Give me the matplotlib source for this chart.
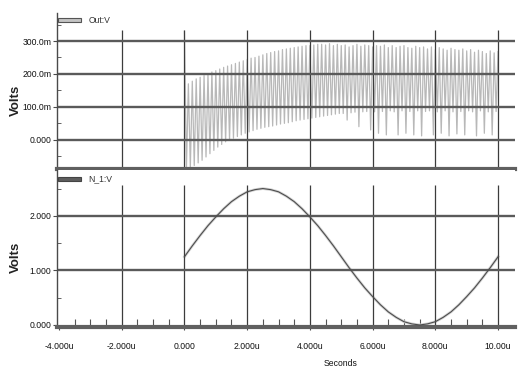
import numpy as np
import matplotlib.pyplot as plt
from matplotlib.patches import Rectangle

# Out:V - per-cycle peak and trough values (mV), one cycle every 0.125 us
out_peak_mv = [330, 170, 178, 185, 190, 195, 200, 206, 210, 215,
               220, 224, 228, 232, 236, 240, 244, 248, 250, 254,
               258, 262, 265, 268, 270, 274, 276, 278, 280, 282,
               284, 286, 286, 288, 290, 290, 288, 292, 286, 290,
               286, 288, 282, 286, 290, 284, 288, 286, 282, 286,
               284, 288, 280, 286, 280, 284, 286, 280, 278, 284,
               280, 282, 276, 282, 274, 280, 276, 272, 278, 274,
               272, 276, 270, 274, 266, 272, 268, 262, 270, 264,
               268]
out_trough_mv = [-90, -85, -78, -70, -62, -52, -42, -32, -22, -14,
                 -6, 0, 5, 10, 15, 20, 24, 28, 32, 35,
                 38, 40, 42, 45, 48, 50, 52, 55, 58, 60,
                 62, 64, 66, 68, 70, 72, 74, 76, 78, 80,
                 80, 60, 82, 84, 40, 85, 86, 30, 85, 20,
                 86, 15, 88, 85, 15, 88, 20, 86, 15, 88,
                 12, 86, 88, 15, 85, 20, 88, 12, 85, 18,
                 86, 15, 88, 85, 12, 88, 20, 85, 15, 86]
cycle_us = 0.125

# N_1:V sampled every 0.25 us from 0 to 10 us
n1_step_us = 0.25
n1_volts = [1.25, 1.45, 1.64, 1.82, 1.98, 2.13, 2.26, 2.36, 2.44, 2.48,
            2.50, 2.48, 2.44, 2.36, 2.26, 2.13, 1.98, 1.82, 1.64, 1.45,
            1.25, 1.05, 0.86, 0.68, 0.52, 0.37, 0.24, 0.14, 0.06, 0.02,
            0.00, 0.02, 0.06, 0.14, 0.24, 0.37, 0.52, 0.68, 0.86, 1.05,
            1.25]

x_ticks = [-4, -2, 0, 2, 4, 6, 8, 10]
x_labels = ['-4.000u', '-2.000u', '0.000', '2.000u', '4.000u', '6.000u', '8.000u', '10.00u']
top_yticks = [0.0, 0.1, 0.2, 0.3]
top_ylabels = ['0.000', '100.0m', '200.0m', '300.0m']
bot_yticks = [0.0, 1.0, 2.0]
bot_ylabels = ['0.000', '1.000', '2.000']

# build the zig-zag trace
pk_t = np.arange(len(out_peak_mv)) * cycle_us
tr_t = np.arange(len(out_trough_mv)) * cycle_us + cycle_us / 2
out_t = np.empty(len(pk_t) + len(tr_t))
out_v = np.empty_like(out_t)
out_t[0::2] = pk_t
out_t[1::2] = tr_t
out_v[0::2] = np.array(out_peak_mv) / 1000.0
out_v[1::2] = np.array(out_trough_mv) / 1000.0
n1_t = np.arange(len(n1_volts)) * n1_step_us

narrow = ['Liberation Sans Narrow', 'Liberation Sans', 'DejaVu Sans']
dark = '#4a4a4a'
fs = 6.2

fig = plt.figure(figsize=(5.28, 3.86), dpi=100)
ax1 = fig.add_axes([57/528, (386-169)/386, 458/528, 156/386])
ax2 = fig.add_axes([57/528, (386-327)/386, 458/528, 157/386])

ax1.plot(out_t, out_v, color='#b8b8b8', lw=0.9, zorder=1)
ax2.plot(n1_t, n1_volts, color='#d4d4d4', lw=2.0, zorder=2)
ax2.plot(n1_t, n1_volts, color='#4c4c4c', lw=0.8, zorder=3)

for ax, ytk, ylab, ylim, ytop in [(ax1, top_yticks, top_ylabels, (-0.0885, 0.385), 0.333),
                                  (ax2, bot_yticks, bot_ylabels, (-0.037, 2.84), 2.57)]:
    ax.vlines(x_ticks[1:], ylim[0], ytop, color='#3c3c3c', lw=0.9, zorder=2)
    for y in ytk:
        if y > ylim[0] + 0.05:
            ax.axhline(y, color='#5a5a5a', lw=1.7, zorder=2)
    ax.spines['top'].set_visible(False)
    ax.spines['right'].set_visible(False)
    ax.spines['left'].set_color(dark)
    ax.spines['left'].set_linewidth(1.0)
    ax.spines['bottom'].set_color('#606060')
    ax.spines['bottom'].set_linewidth(3.0)
    ax.set_yticks(ytk)
    ax.set_yticklabels(ylab, family=narrow, fontsize=fs, color='#111111')
    step = ytk[1] - ytk[0]
    minors = np.arange(ytk[0] - step / 2, ylim[1], step)
    ax.set_yticks(minors[minors > ylim[0]], minor=True)
    ax.tick_params(axis='y', which='major', direction='out', length=3, color=dark, pad=1)
    ax.tick_params(axis='y', which='minor', direction='in', length=3, color=dark)
    ax.set_ylabel('Volts', family=['Liberation Sans', 'DejaVu Sans'], fontweight='bold',
                  fontsize=9.5, color='#222222')
    ax.set_xlim(-4.064, 10.54)
    ax.set_ylim(*ylim)

ax1.yaxis.set_label_coords(-0.077, 0.44)
ax2.yaxis.set_label_coords(-0.077, 0.446)

ax1.set_xticks([])
ax2.set_xticks(x_ticks)
ax2.set_xticklabels(x_labels, family=narrow, fontsize=fs, color='#111111')
ax2.set_xticks(np.arange(-3.5, 10.5, 0.5), minor=True)
ax2.set_xlim(-4.064, 10.54)
ax2.tick_params(axis='x', which='major', direction='out', length=2, color=dark, pad=9)
ax2.tick_params(axis='x', which='minor', direction='in', length=6, color='#555555', width=0.8)

# legend swatches
ax1.add_patch(Rectangle((0.003, 0.944), 0.05, 0.022, transform=ax1.transAxes,
                        facecolor='#c4c4c4', edgecolor='#555555', lw=0.8, clip_on=False))
ax1.text(0.068, 0.955, 'Out:V', transform=ax1.transAxes, family=narrow, fontsize=fs,
         color='#333333', va='center')
ax2.add_patch(Rectangle((0.003, 0.933), 0.05, 0.022, transform=ax2.transAxes,
                        facecolor='#5e5e5e', edgecolor='#444444', lw=0.8, clip_on=False))
ax2.text(0.068, 0.944, 'N_1:V', transform=ax2.transAxes, family=narrow, fontsize=fs,
         color='#333333', va='center')

fig.text(341/528, 1 - 363/386, 'Seconds', family=narrow, fontsize=fs, color='#111111',
         ha='center', va='center')

fig.savefig('out.png', dpi=100)
